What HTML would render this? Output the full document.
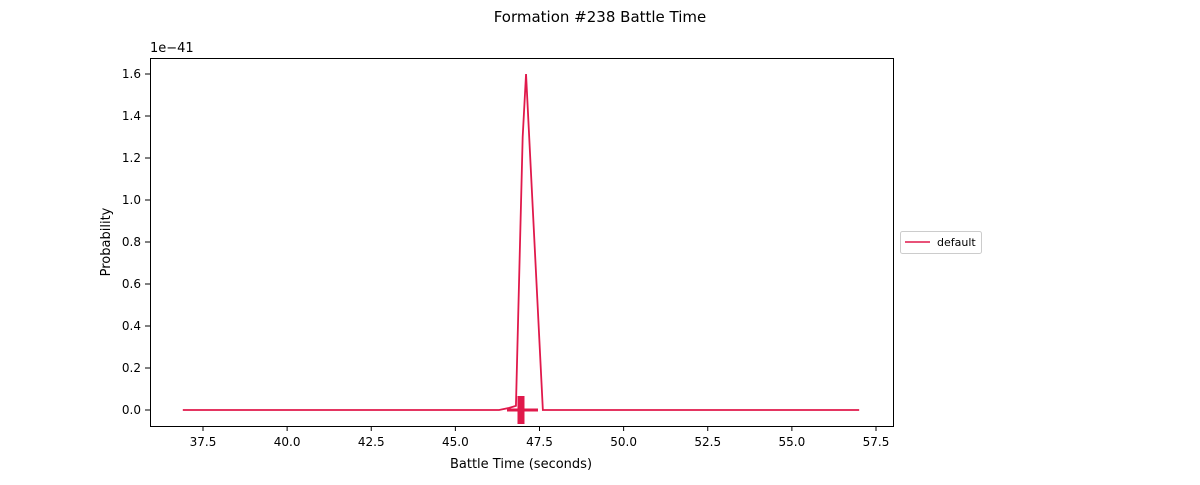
<!DOCTYPE html>
<html><head><meta charset="utf-8"><style>
body{margin:0;background:#fff;font-family:"Liberation Sans","DejaVu Sans",sans-serif}
svg text{font-family:"DejaVu Sans","Liberation Sans",sans-serif}
</style></head><body>
<svg id="chart" width="1200" height="480" xmlns="http://www.w3.org/2000/svg">
<rect width="1200" height="480" fill="#fff"/>
<text x="600" y="22" text-anchor="middle" font-size="15">Formation #238 Battle Time</text>
<g id="plot"></g>
<rect x="150.5" y="58.5" width="743" height="368" fill="none" stroke="#000" stroke-width="1"/>
<text x="521" y="468" text-anchor="middle" font-size="13">Battle Time (seconds)</text>
<text transform="translate(110,242) rotate(-90)" text-anchor="middle" font-size="13">Probability</text>
<text x="150" y="52" font-size="13">1e−41</text>
<g>
<rect x="900.5" y="231.5" width="81" height="22" rx="2" fill="#fff" stroke="#ccc"/>
<line x1="905" y1="242" x2="930" y2="242" stroke="#e0194b" stroke-width="1.5"/>
<text x="937" y="246" font-size="11">default</text>
</g>
</svg>
<script>
const xTicks=[37.5,40.0,42.5,45.0,47.5,50.0,52.5,55.0,57.5];
const yTicks=[0.0,0.2,0.4,0.6,0.8,1.0,1.2,1.4,1.6];
const seriesX=[36.9,46.3,46.6,46.8,47.0,47.1,47.6,57.0];
const seriesY=[0,0,0.01,0.02,1.3,1.6,0,0];
const markerX=[46.95];
const markerY=[0];
const X=v=>203+(v-37.5)*33.65;
const Y=v=>410-v*210;
const ns="http://www.w3.org/2000/svg";
const g=document.getElementById('plot');
function mk(t,a){const e=document.createElementNS(ns,t);for(const k in a)e.setAttribute(k,a[k]);g.appendChild(e);return e;}
xTicks.forEach(t=>{
 const l=mk('line',{x1:X(t),x2:X(t),y1:426,y2:431,stroke:'#000'});
 
 
 const s=mk('text',{x:X(t),y:446,'text-anchor':'middle','font-size':12});
 
 
 s.textContent=t.toFixed(1);
});
yTicks.forEach(t=>{
 const l=mk('line',{x1:145,x2:150,y1:Y(t),y2:Y(t),stroke:'#000'});
 
 
 const s=mk('text',{x:141,y:Y(t)+4,'text-anchor':'end','font-size':12});
 
 
 s.textContent=t.toFixed(1);
});
const p=mk('polyline',{points:seriesX.map((x,i)=>X(x)+','+Y(seriesY[i])).join(' '),fill:'none',stroke:'#e0194b','stroke-width':1.8});


markerX.forEach((mx,i)=>{
 const h=mk('rect',{x:X(mx)-14,y:Y(markerY[i])-1.5,width:31,height:3,fill:'#e0194b'});
 
 
 const v=mk('rect',{x:X(mx)-3.5,y:Y(markerY[i])-14,width:7,height:28,fill:'#e0194b'});
 
 
});
</script>
</body></html>
